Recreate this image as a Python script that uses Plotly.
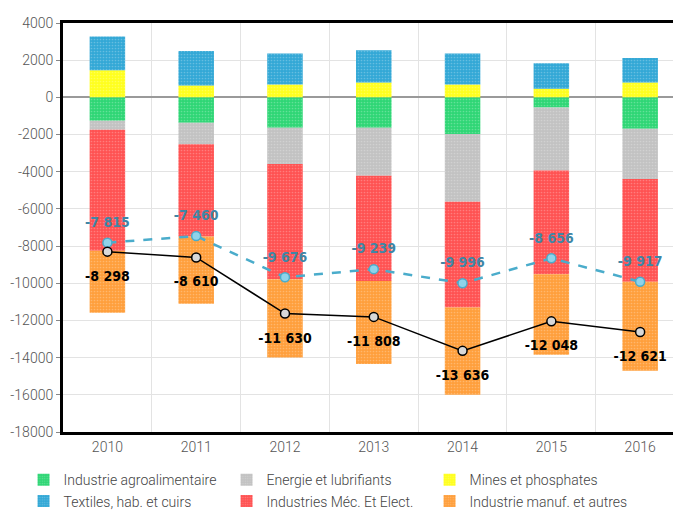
import plotly.graph_objects as go

years = ["2010", "2011", "2012", "2013", "2014", "2015", "2016"]

agro = [-1260, -1370, -1640, -1640, -1970, -540, -1690]
energie = [-480, -1150, -1950, -2570, -3640, -3390, -2700]
mines = [1460, 640, 690, 800, 690, 460, 800]
textiles = [1820, 1855, 1665, 1730, 1665, 1380, 1320]
meca = [-6510, -4970, -6200, -5670, -5690, -5580, -5530]
manuf = [-3330, -3610, -4200, -4460, -4690, -4330, -4790]

solde_hors_energie = [-7815, -7460, -9676, -9239, -9996, -8656, -9917]
solde_total = [-8298, -8610, -11630, -11808, -13636, -12048, -12621]

ytick_vals = [4000, 2000, 0, -2000, -4000, -6000, -8000, -10000, -12000, -14000, -16000, -18000]
ytick_text = ["4000", "2000", "0", "-2000", "-4000", "-6000", "-8000", "-10000",
              "-12000", "-14000", "-16000", "-18000"]

series = [
    ("Industrie agroalimentaire", agro, "#2fd675"),
    ("Energie et lubrifiants", energie, "#c2c2c2"),
    ("Mines et phosphates", mines, "#ffff1e"),
    ("Textiles, hab. et cuirs", textiles, "#33a8d6"),
    ("Industries Méc. Et Elect.", meca, "#ff5252"),
    ("Industrie manuf. et autres", manuf, "#ff9f3c"),
]

LABEL_FONT = "'DejaVu Sans Condensed', 'Roboto Condensed', Roboto, sans-serif"

fig = go.Figure()
for name, vals, col in series:
    fig.add_trace(go.Bar(
        x=years, y=vals, name=name, width=0.4,
        marker=dict(color=col, line=dict(width=0),
                    pattern=dict(shape=".", size=3, solidity=0.25,
                                 fgcolor="white", fgopacity=0.25)),
    ))

fig.add_trace(go.Scatter(
    x=years, y=solde_hors_energie, mode="lines+markers", showlegend=False,
    line=dict(color="#4aaccb", width=2.5, dash="dash"),
    marker=dict(size=9, color="#8fd3ea", line=dict(color="#4aaccb", width=1.5)),
))
fig.add_trace(go.Scatter(
    x=years, y=solde_total, mode="lines+markers", showlegend=False,
    line=dict(color="black", width=1.5),
    marker=dict(size=9, color="#d8d8d8", line=dict(color="black", width=1.5)),
))


def fmt(v):
    return f"{v:,}".replace(",", " ")


# data labels (invisible spacer markers push the text away from the points)
fig.add_trace(go.Scatter(
    x=years, y=solde_hors_energie, mode="markers+text", showlegend=False,
    hoverinfo="skip", marker=dict(size=18, opacity=0),
    text=[fmt(v) for v in solde_hors_energie], textposition="top center",
    textfont=dict(family=LABEL_FONT, size=14, color="#3f86a6", weight="bold"),
))
fig.add_trace(go.Scatter(
    x=years, y=solde_total, mode="markers+text", showlegend=False,
    hoverinfo="skip", marker=dict(size=28, opacity=0),
    text=[fmt(v) for v in solde_total], textposition="bottom center",
    textfont=dict(family=LABEL_FONT, size=14, color="black", weight="bold"),
))

fig.update_layout(
    width=673, height=513,
    barmode="relative",
    margin=dict(l=63, r=0, t=23, b=81),
    paper_bgcolor="white", plot_bgcolor="white",
    font=dict(family="Roboto", size=14, color="#555555"),
    legend=dict(orientation="h", xref="container", yref="container",
                x=0.035, y=0.095, xanchor="left", yanchor="top",
                entrywidth=158, entrywidthmode="pixels",
                font=dict(size=14, color="#444444", weight=300),
                itemsizing="constant", tracegroupgap=0),
    xaxis=dict(type="category", range=[-0.5, 6.37], showline=True, mirror=True,
               linecolor="black", linewidth=3, showgrid=True, gridcolor="#e3e3e3",
               tickson="boundaries", ticks="",
               tickfont=dict(size=14, color="#555555", weight=300)),
    yaxis=dict(range=[-18000, 4000], tickmode="array", tickvals=ytick_vals,
               ticktext=ytick_text, showline=True, linecolor="black",
               linewidth=3, ticks="outside", ticklen=4, tickcolor="#888888",
               gridcolor="#e3e3e3", zeroline=True, zerolinecolor="#9a9a9a",
               zerolinewidth=1.5, tickfont=dict(size=14, color="#555555", weight=300)),
)

fig.write_html("out.html")
